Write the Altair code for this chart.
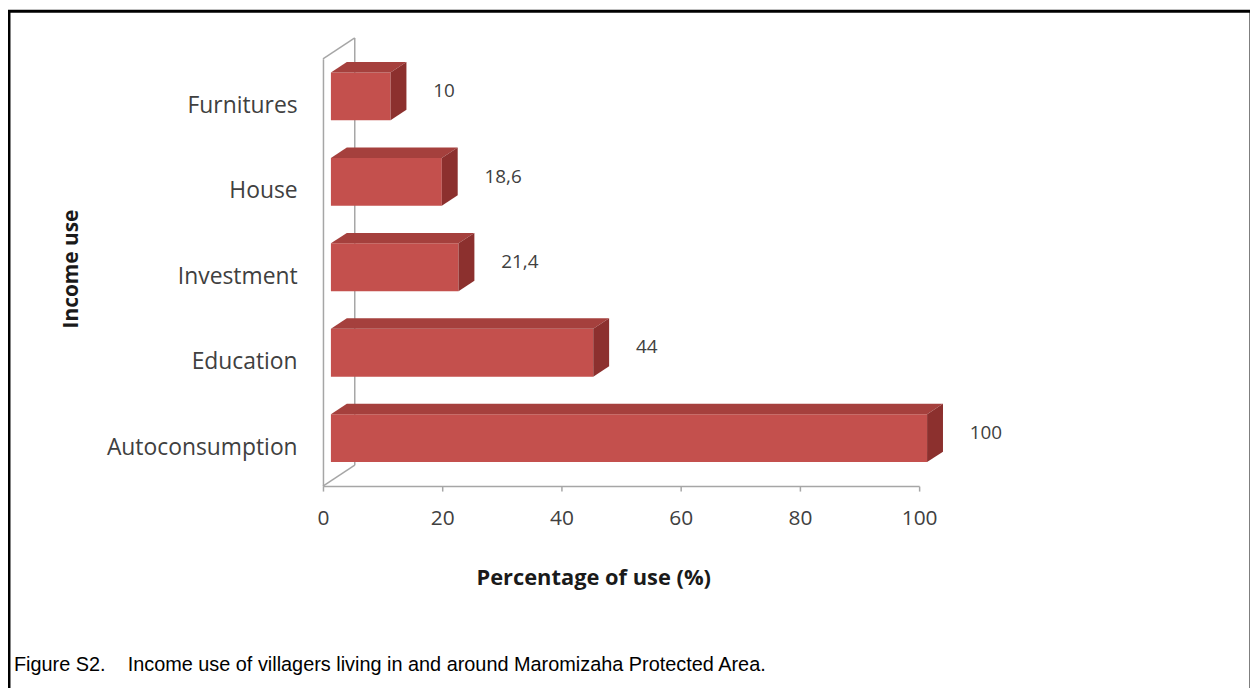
import altair as alt
import pandas as pd

# ---- data ----
categories = ["Autoconsumption", "Education", "Investment", "House", "Furnitures"]
values = [100, 44, 21.4, 18.6, 10]
value_labels = ["100", "44", "21,4", "18,6", "10"]
x_ticks = [0, 20, 40, 60, 80, 100]
caption = "Figure S2.\u00a0\u00a0\u00a0 Income use of villagers living in and around Maromizaha Protected Area."

# ---- style constants (3-D look) ----
W, H = 600, 430                  # plot area in px
XMAX, NCAT = 100, len(categories)
DX = 32 / (W / XMAX)             # wall depth in x data units (32 px)
DY = 21 / (H / NCAT)             # wall depth in y data units (21 px)
HALF = 0.28                      # half bar thickness (band units)
F, B = 0.25, 0.75                # bar front / back plane (fraction of depth)

FRONT, TOP, SIDE = "#C4504D", "#A5403D", "#8C302E"
WALL = "#A6A6A6"
TXT = "#404040"
FONT = "Open Sans"

rows_front, rows_top, rows_side, rows_lab = [], [], [], []
for i, (cat, v, lab) in enumerate(zip(categories, values, value_labels)):
    c = i + 0.5
    rows_front.append(dict(cat=cat, x=F * DX, x2=v + F * DX,
                           y=c - HALF + F * DY, y2=c + HALF + F * DY))
    rows_top.append(dict(cat=cat, y=c + HALF + F * DY, x=F * DX, x2=v + F * DX))
    rows_top.append(dict(cat=cat, y=c + HALF + B * DY, x=B * DX, x2=v + B * DX))
    rows_side.append(dict(cat=cat, x=v + F * DX, y=c + HALF + F * DY, y2=c - HALF + F * DY))
    rows_side.append(dict(cat=cat, x=v + B * DX, y=c + HALF + B * DY, y2=c - HALF + B * DY))
    rows_lab.append(dict(cat=cat, x=v + B * DX, y=c + 0.5 * DY, label=lab))

df_front = pd.DataFrame(rows_front)
df_top = pd.DataFrame(rows_top)
df_side = pd.DataFrame(rows_side)
df_lab = pd.DataFrame(rows_lab)
df_wall = pd.DataFrame([
    dict(x=DX, y=DY, x2=DX, y2=NCAT + DY),      # back edge
    dict(x=0, y=NCAT, x2=DX, y2=NCAT + DY),     # top diagonal
    dict(x=0, y=0, x2=DX, y2=DY),               # floor diagonal
])

xscale = alt.Scale(domain=[0, XMAX], nice=False, zero=True)
yscale = alt.Scale(domain=[0, NCAT], nice=False, zero=True)

label_expr = "[" + ",".join("'%s'" % c for c in categories) + "][round(datum.value - 0.5)]"

x_axis = alt.Axis(values=x_ticks, grid=False, domainColor=WALL, domainWidth=1.5,
                  tickColor=WALL, tickSize=5, tickWidth=1.5, labelFlush=False,
                  labelFont=FONT, labelFontSize=21, labelColor=TXT, labelPadding=17,
                  title="Percentage of use (%)", titleFont=FONT, titleFontSize=22,
                  titleFontWeight="bold", titleColor="#1a1a1a",
                  titleX=272, titleY=82, titleAnchor="middle", titleAlign="center")
y_axis = alt.Axis(values=[i + 0.5 for i in range(NCAT)], labelExpr=label_expr,
                  grid=False, domainColor=WALL, domainWidth=1.5, ticks=False,
                  labelFont=FONT, labelFontSize=23, labelColor=TXT, labelPadding=26,
                  labelOffset=4, labelLimit=400,
                  title="Income use", titleFont=FONT, titleFontSize=21,
                  titleFontWeight="bold", titleColor="#1a1a1a", titleAngle=-90,
                  titleX=-253, titleY=211, titleAlign="center", titleBaseline="middle")

X = lambda f: alt.X(f, scale=xscale, axis=x_axis)
Y = lambda f: alt.Y(f, scale=yscale, axis=y_axis)

wall = alt.Chart(df_wall).mark_rule(color=WALL, strokeWidth=1.5).encode(
    x=X("x:Q"), x2="x2:Q", y=Y("y:Q"), y2="y2:Q",
)

front = alt.Chart(df_front).mark_rect(color=FRONT).encode(
    x=X("x:Q"), x2="x2:Q", y=Y("y:Q"), y2="y2:Q",
)

top = alt.Chart(df_top).mark_area(color=TOP, orient="horizontal").encode(
    y=Y("y:Q"), x=X("x:Q"), x2="x2:Q", detail="cat:N",
)

side = alt.Chart(df_side).mark_area(color=SIDE, orient="vertical").encode(
    x=X("x:Q"), y=Y("y:Q"), y2="y2:Q", detail="cat:N",
)

labels = alt.Chart(df_lab).mark_text(align="left", baseline="middle", dx=27,
                                      font=FONT, fontSize=19, color=TXT).encode(
    x=X("x:Q"), y=Y("y:Q"), text="label:N",
)

cap = alt.Chart(pd.DataFrame({"caption": [caption]})).mark_text(
    align="left", baseline="middle", font="Liberation Sans", fontSize=20, color="#000000"
).encode(text="caption:N", x=alt.value(-311), y=alt.value(610))

frame = alt.Chart(pd.DataFrame({"k": [0]})).mark_rect(
    filled=False, stroke="#000000", strokeWidth=3
).encode(x=alt.value(-316), x2=alt.value(934), y=alt.value(-48), y2=alt.value(700))

chart = alt.layer(wall, front, top, side, labels, cap, frame).properties(
    width=W, height=H,
    autosize=alt.AutoSizeParams(type="none"),
    padding={"left": 317, "top": 49, "right": 333, "bottom": 201},
    background="white",
).configure_view(stroke=None)

chart.save("out.html", embed_options={"renderer": "svg", "actions": False})
